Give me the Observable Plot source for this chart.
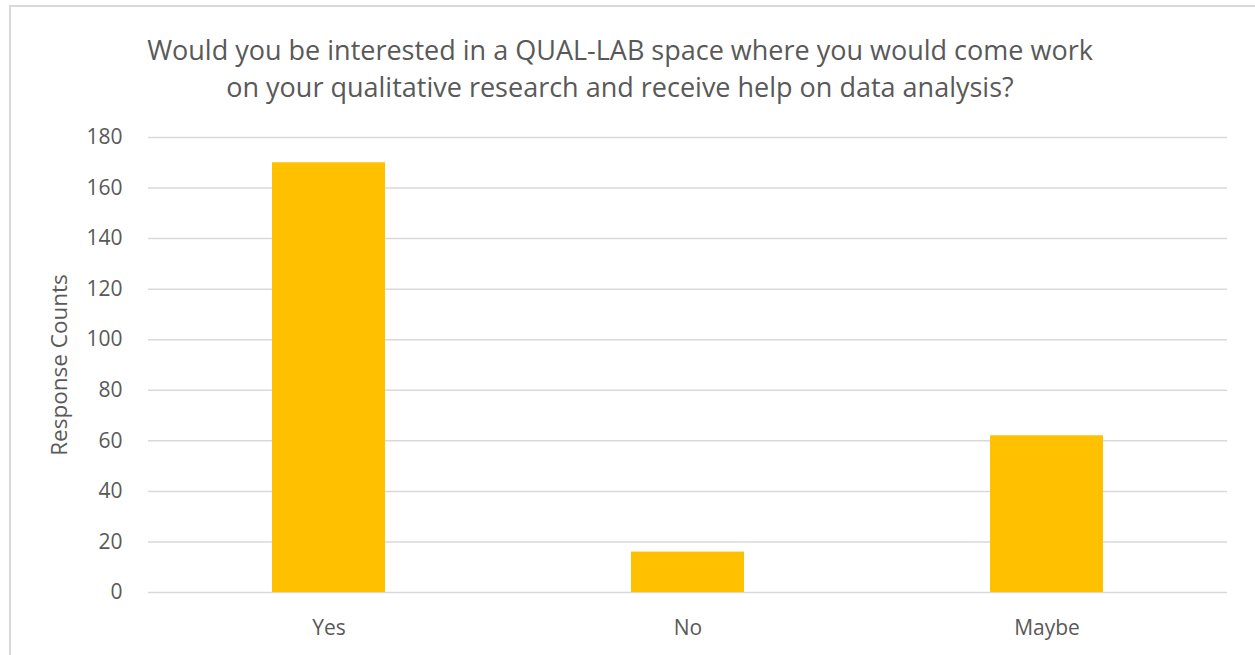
<!DOCTYPE html>
<html><head><meta charset="utf-8">
<script src="https://cdn.jsdelivr.net/npm/d3@7"></script>
<script src="https://cdn.jsdelivr.net/npm/@observablehq/plot@0.6"></script>
<style>
body{margin:0;background:#fff;overflow:hidden;width:1255px;height:655px;position:relative;}
#frame{position:absolute;left:9px;top:5px;width:1300px;height:700px;border:2px solid #d9d9d9;box-sizing:border-box;}
#title{position:absolute;left:0;top:31px;width:1240px;text-align:center;font-family:"Open Sans",sans-serif;font-size:27px;color:#595959;line-height:37px;white-space:nowrap;}
#chart{position:absolute;left:0;top:110px;}
#chart svg text{font-size:21px;fill:#595959;}
#chart svg g[aria-label="y-axis label"] text{font-size:22.5px;}
</style>
</head><body>
<div id="frame"></div>
<div id="title">Would you be interested in a QUAL-LAB space where you would come work<br>on your qualitative research and receive help on data analysis?</div>
<div id="chart"></div>
<script>
const categories = ["Yes", "No", "Maybe"];
const counts = [170, 16, 62];
const yTicks = [0, 20, 40, 60, 80, 100, 120, 140, 160, 180];
const yLabel = "Response Counts";

const data = categories.map((c, i) => ({category: c, count: counts[i]}));

const chart = Plot.plot({
  width: 1255,
  height: 545,
  marginLeft: 148,
  marginRight: 28,
  marginTop: 27,
  marginBottom: 63,
  style: {fontFamily: '"Open Sans", sans-serif', fontSize: "21px", color: "#595959", background: "transparent"},
  x: {domain: categories, paddingInner: 0.686, paddingOuter: 0.343},
  y: {domain: [0, 180]},
  marks: [
    Plot.ruleY(yTicks, {stroke: "#d9d9d9", strokeWidth: 1.5, strokeOpacity: 1}),
    Plot.barY(data, {x: "category", y: "count", fill: "#FFC000"}),
    Plot.axisX({tickSize: 0, tickPadding: 28, label: null}),
    Plot.axisY({ticks: yTicks, tickSize: 0, tickPadding: 26, label: yLabel, labelAnchor: "center", labelArrow: "none", labelOffset: 97})
  ]
});
document.getElementById("chart").appendChild(chart);
</script>
</body></html>
